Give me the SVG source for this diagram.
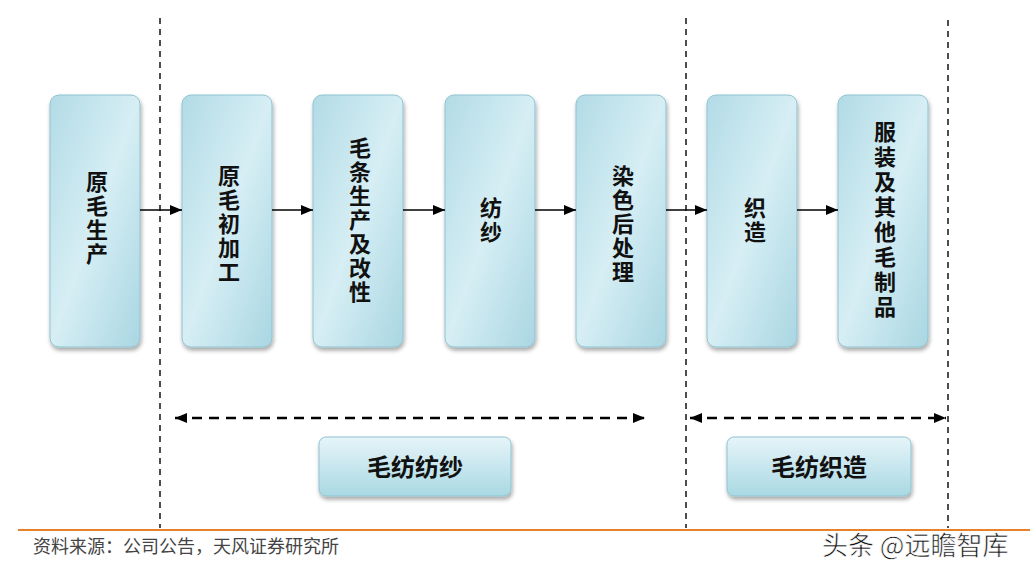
<svg xmlns="http://www.w3.org/2000/svg" width="1030" height="574" viewBox="0 0 1030 574">
<defs>
<linearGradient id="g" x1="0" y1="0" x2="1" y2="1">
<stop offset="0" stop-color="#b2dbe6"/>
<stop offset="0.5" stop-color="#d6eef4"/>
<stop offset="1" stop-color="#a9d6e2"/>
</linearGradient>
<linearGradient id="g2" x1="0" y1="0" x2="0" y2="1">
<stop offset="0" stop-color="#e6f5f9"/>
<stop offset="1" stop-color="#a9d8e3"/>
</linearGradient>
<filter id="sh" x="-20%" y="-10%" width="140%" height="130%">
<feGaussianBlur in="SourceAlpha" stdDeviation="2"/>
<feOffset dx="1" dy="3"/>
<feComponentTransfer><feFuncA type="linear" slope="0.35"/></feComponentTransfer>
<feMerge><feMergeNode/><feMergeNode in="SourceGraphic"/></feMerge>
</filter>
<marker id="ah" viewBox="0 0 12 10" refX="12" refY="5" markerWidth="12" markerHeight="10" markerUnits="userSpaceOnUse" orient="auto-start-reverse">
<path d="M0,0 L12,5 L0,10 z" fill="#000"/>
</marker>
</defs>
<style>
.box{fill:url(#g);stroke:#8fc3d1;stroke-width:1;filter:url(#sh)}
.lbl{fill:url(#g2);stroke:#8fc3d1;stroke-width:1;filter:url(#sh)}
.t{font-family:"Noto Sans CJK SC",sans-serif;font-weight:bold;font-size:22px;fill:#111;text-anchor:middle}
.v{writing-mode:vertical-rl;letter-spacing:2px}
.lt{font-size:24px}
.arr{stroke:#000;stroke-width:1.6;fill:none;marker-end:url(#ah)}
.dash{stroke:#222;stroke-width:1.6;stroke-dasharray:6,5;fill:none}
.hd{stroke:#000;stroke-width:2.5;stroke-dasharray:10,7;fill:none;marker-start:url(#ah);marker-end:url(#ah)}
</style>
<rect width="1030" height="574" fill="#fff"/>
<g id="separators">
<line class="dash" x1="160" y1="18" x2="160" y2="528"/>
<line class="dash" x1="686" y1="18" x2="686" y2="528"/>
<line class="dash" x1="948" y1="20" x2="948" y2="528"/>
</g>
<g id="n1"><rect class="box" x="50" y="95" width="90" height="252" rx="9"/>
<text class="t v" x="97" y="219">原毛生产</text></g>
<g id="n2"><rect class="box" x="182" y="95" width="90" height="252" rx="9"/>
<text class="t v" x="229" y="225">原毛初加工</text></g>
<g id="n3"><rect class="box" x="313" y="95" width="90" height="252" rx="9"/>
<text class="t v" x="360" y="221">毛条生产及改性</text></g>
<g id="n4"><rect class="box" x="445" y="95" width="90" height="252" rx="9"/>
<text class="t v" x="491" y="221">纺纱</text></g>
<g id="n5"><rect class="box" x="576" y="95" width="90" height="252" rx="9"/>
<text class="t v" x="623" y="225">染色后处理</text></g>
<g id="n6"><rect class="box" x="707" y="95" width="90" height="252" rx="9"/>
<text class="t v" x="755" y="221">织造</text></g>
<g id="n7"><rect class="box" x="838" y="95" width="90" height="252" rx="9"/>
<text class="t v" x="885" y="221" style="letter-spacing:3px">服装及其他毛制品</text></g>
<g id="connectors">
<line class="arr" x1="140" y1="210" x2="182" y2="210"/>
<line class="arr" x1="272" y1="210" x2="313" y2="210"/>
<line class="arr" x1="403" y1="210" x2="445" y2="210"/>
<line class="arr" x1="535" y1="210" x2="576" y2="210"/>
<line class="arr" x1="666" y1="210" x2="707" y2="210"/>
<line class="arr" x1="797" y1="210" x2="838" y2="210"/>
<line class="hd" x1="175" y1="418" x2="645" y2="418"/>
<line class="hd" x1="690" y1="418" x2="946" y2="418"/>
</g>
<g id="l1"><rect class="lbl" x="319" y="437" width="192" height="59" rx="7"/>
<text class="t lt" x="415" y="476">毛纺纺纱</text></g>
<g id="l2"><rect class="lbl" x="727" y="437" width="184" height="59" rx="7"/>
<text class="t lt" x="819" y="476">毛纺织造</text></g>
<line x1="18" y1="530" x2="1030" y2="530" stroke="#e8822a" stroke-width="2"/>
<text x="33" y="553" font-family="Noto Sans CJK SC, sans-serif" font-size="18" fill="#444">资料来源：公司公告，天风证券研究所</text>
<text x="822" y="555" font-family="Noto Sans CJK SC, sans-serif" font-size="26" fill="#111" stroke="#fff" stroke-width="0.6">头条 @远瞻智库</text>
</svg>
